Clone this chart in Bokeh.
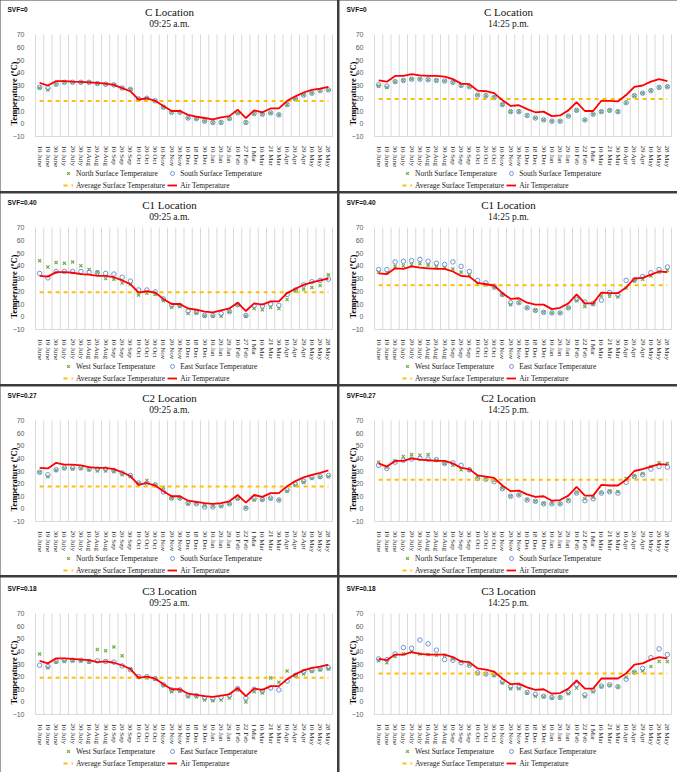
import math

from bokeh.plotting import figure
from bokeh.layouts import gridplot
from bokeh.models import Range1d, FixedTicker, Label, Legend, LegendItem
from bokeh.embed import file_html
from bokeh.resources import INLINE

# ---- category labels (survey dates) ----
DATES_27FEB = ["10 June", "19 June", "30 June", "10 July", "20 July", "30 July",
               "10 Aug", "20 Aug", "30 Aug", "10 Sep", "20 Sep", "30 Sep",
               "10 Oct", "20 Oct", "30 Oct", "10 Nov", "20 Nov", "30 Nov",
               "10 Dec", "18 Dec", "30 Dec", "10 Jan", "20 Jan", "29 Jan",
               "10 Feb", "27 Feb", "1 Mar", "10 Mar", "21 Mar", "30 Mar",
               "10 Apr", "20 Apr", "29 Apr", "10 May", "20 May", "28 May"]
DATES_22FEB = [d if d != "27 Feb" else "22 Feb" for d in DATES_27FEB]

# ---- C location (SVF=0) ----
c_am_north = [28, 26.5, 31, 32.5, 32.5, 32.5, 32.5, 31.5, 31, 30.5, 28, 27,
              19.5, 20, 18, 13, 9, 9, 4.5, 4, 2, 1, 1, 4,
              8.5, 1, 8, 7.5, 8.5, 7, 15, 19.5, 22.5, 24, 26, 26.5]
c_am_south = [28.5, 28, 31, 32.5, 32.5, 32.5, 32.5, 31.5, 31, 30.5, 28, 27,
              19.5, 20, 18, 13, 9, 9, 4.5, 4, 2, 1, 1, 4,
              8.5, 1, 8, 7.5, 8.5, 7, 15, 19.5, 22.5, 24, 26, 26.5]
c_am_air = [32, 30, 33.5, 33.5, 33, 32.8, 32.5, 32, 31.5, 30.5, 28, 25.5,
            19, 20, 18, 14, 10, 10, 7, 5.5, 4.5, 3.5, 5, 6,
            11, 4.5, 10.5, 9, 12, 12, 18, 21.5, 24.5, 26.5, 27.5, 29]
c_am_avg = 17.9

c_pm_north = [29.5, 28.5, 33, 34, 35, 35, 34.5, 34, 33.5, 32.5, 30, 29,
              22.5, 22, 20.5, 15, 9.5, 9.5, 6.5, 4.5, 3, 2, 2, 6,
              10.5, 3, 7.5, 9.5, 10.5, 9.5, 16.5, 22, 24, 26, 28.5, 29]
c_pm_south = [30.5, 29.5, 33, 34, 35, 35, 34.5, 34, 33.5, 32.5, 30, 29,
              22.5, 22, 20.5, 15, 9.5, 9.5, 6.5, 4.5, 3, 2, 2, 6,
              10.5, 3, 7.5, 9.5, 10.5, 9.5, 16.5, 22, 24, 26, 28.5, 29]
c_pm_air = [34, 33, 37.5, 37.5, 39, 38, 37.5, 37.5, 37, 35, 31.5, 31,
            26, 25.5, 24, 18.5, 14, 14.5, 11.5, 9, 9.5, 6, 6.5, 10.5,
            17, 10, 10, 18, 18, 17.5, 22.5, 29, 30, 33, 35, 33.5]
c_pm_avg = 19.5

# ---- C1 location (SVF=0.40) ----
c1_am_west = [44, 39, 42.5, 42, 43, 40, 37, 35, 30, 29.5, 26.5, 25.5,
              17, 18.5, 17.5, 12.5, 7.5, 8, 2.5, 3, 0.5, 0.5, 0.5, 4,
              9, 0.5, 6.5, 5.5, 7.5, 6.5, 13.5, 20.5, 21.5, 23, 24.5, 33]
c1_am_east = [34, 30.5, 35.5, 35.5, 35.5, 35.5, 35, 34.5, 34, 33.5, 31, 28,
              21, 21, 19.5, 14, 9, 9, 4.5, 3.5, 1, 1, 2.5, 4,
              9.5, 1, 8.5, 8.5, 10, 9, 17.5, 21, 25, 27.5, 28.5, 29.5]
c1_am_air = [32, 31.5, 35, 35, 34.5, 33.5, 33, 32, 32, 31, 28.5, 25.5,
             19, 20, 19, 14, 10, 10, 6.5, 5.5, 4, 3.5, 5, 6.5,
             11, 4.5, 10.5, 9.5, 12, 12, 18.5, 22, 25, 27, 28.5, 30]
c1_am_avg = 19.3

c1_pm_west = [35, 34.5, 39.5, 40, 41, 41.5, 40.5, 39.5, 38.5, 37.5, 35, 33,
              25.5, 25, 22.5, 17, 9.5, 11, 7, 5, 3.5, 3, 3, 7,
              12.5, 8, 9.5, 16.5, 16, 15.5, 22.5, 28, 29.5, 32, 35, 36.5]
c1_pm_east = [37, 37, 43, 43.5, 44, 45, 43.5, 42, 41, 43, 39.5, 35.5,
              28.5, 26.5, 24, 17.5, 11, 11, 7, 5, 3.5, 3, 3, 7,
              13.5, 11.5, 10.5, 13, 19, 17, 28.5, 29, 31.5, 34.5, 37, 39]
c1_pm_air = [34, 33.5, 38, 37.5, 39.5, 38.5, 38, 37.5, 37.5, 35.5, 32, 31.5,
             26.5, 25.5, 24.5, 18.5, 14, 14.5, 11, 9.5, 9.5, 6, 7, 10.5,
             17.5, 10.5, 10.5, 19, 18.5, 18.5, 23, 30, 30.5, 33, 35.5, 35]
c1_pm_avg = 24.8

# ---- C2 location (SVF=0.27) ----
c2_am_north = [29, 25.5, 30.5, 32, 31.5, 32, 31, 30, 30, 29.5, 27, 25.5,
               20, 22.5, 19, 17, 8.5, 8.5, 4, 4.5, 2.5, 2, 2, 4,
               8, 1, 7, 7, 8, 7, 14, 18.5, 21, 24, 25, 25.5]
c2_am_south = [29, 27, 31, 32.5, 32.5, 32.5, 31.5, 31.5, 31.5, 30.5, 28.5, 26.5,
               20.5, 20.5, 19, 13.5, 8.5, 8.5, 4.5, 4, 1.5, 1.5, 2.5, 4,
               8.5, 0.5, 8, 7.5, 8.5, 7, 15, 19.5, 22, 25, 25.5, 26.5]
c2_am_air = [32.5, 32, 36.5, 35, 35, 34.5, 33, 32.5, 32.5, 31.5, 29, 26,
             19, 20.5, 18.5, 14, 10, 10, 6.5, 5.5, 4.5, 4, 4.5, 6,
             11, 5, 11, 9.5, 12.5, 12.5, 18, 22, 25, 27, 28.5, 30.5]
c2_am_avg = 17.7

c2_pm_north = [37, 33, 38, 41.5, 43, 42.5, 43, 38.5, 36, 34.5, 31, 30.5,
               25, 23.5, 22.5, 16.5, 10, 11, 7.5, 6, 4.5, 4.5, 4, 7,
               13, 8, 9, 13, 14, 13.5, 24, 26, 28, 33.5, 36.5, 36]
c2_pm_south = [34.5, 32, 37, 38.5, 39.5, 40, 39.5, 39, 36, 36.5, 34.5, 31,
               24, 23.5, 21.5, 16, 10, 11, 7, 6, 4, 4, 4, 6.5,
               12.5, 6.5, 8, 12.5, 13.5, 12.5, 21, 25.5, 27, 31.5, 33.5, 33]
c2_pm_air = [36, 33.5, 38, 38, 40, 39, 38.5, 38, 38, 36, 32.5, 31.5,
             26.5, 25.5, 24.5, 18.5, 14, 14.5, 11.5, 9.5, 10, 6.5, 7, 10.5,
             17.5, 10.5, 10.5, 19, 18.5, 18.5, 23, 30, 31.5, 33.5, 35.5, 35]
c2_pm_avg = 23.0

# ---- C3 location (SVF=0.18) ----
c3_am_west = [38, 27, 31.5, 32, 32.5, 32.5, 31.5, 41.5, 40.5, 43.5, 36.5, 26,
              19.5, 19, 18, 13, 8, 8.5, 4, 4, 1.5, 1, 1.5, 3,
              9.5, 0, 8, 7, 19, 15.5, 24.5, 21, 22, 24, 25.5, 26]
c3_am_east = [29, 28, 32, 33, 33, 33, 32, 32.5, 32, 31.5, 28.5, 25.5,
              20, 20, 18.5, 13.5, 9.5, 9.5, 5, 5, 3, 2.5, 3.5, 5,
              10.5, 3, 10, 8.5, 11, 9.5, 16.5, 21, 24, 25, 26, 27]
c3_am_air = [32.5, 30.5, 34.5, 34.5, 34, 33.5, 33, 31.5, 32, 31, 29, 26,
             19, 20, 18.5, 14, 10, 10, 6.5, 5.5, 4.5, 4, 5, 6,
             11, 4.5, 10.5, 9.5, 12.5, 12.5, 18, 22, 25, 27, 28, 29.5]
c3_am_avg = 19.2

c3_pm_west = [32.5, 31, 36, 38, 39.5, 38, 37.5, 37, 37, 34, 32, 29.5,
              22.5, 22, 21, 15, 10.5, 10.5, 7, 4.5, 4, 3, 3.5, 6.5,
              11, 4, 8, 12, 13, 12, 19.5, 23.5, 24.5, 28, 32, 32]
c3_pm_east = [34, 33.5, 38, 43, 42.5, 49, 46, 41, 33.5, 33, 31, 29,
              23, 22, 21.5, 16, 12, 11.5, 7.5, 6, 4.5, 3.5, 3.5, 7.5,
              13.5, 5.5, 9, 12.5, 13.5, 12, 18, 23.5, 26.5, 35, 42, 37.5]
c3_pm_air = [34, 33, 37.5, 37.5, 39.5, 38, 37.5, 37.5, 37.5, 35.5, 32, 31.5,
             26.5, 25.5, 24, 18.5, 14, 14.5, 11.5, 9.5, 10, 6.5, 7, 10.5,
             17, 10.5, 10.5, 18.5, 18.5, 18.5, 22.5, 29.5, 30.5, 33.5, 35.5, 34.5]
c3_pm_avg = 22.4

Y_TICKS = [-10, 0, 10, 20, 30, 40, 50, 60, 70]
Y_MIN, Y_MAX = Y_TICKS[0], Y_TICKS[-1]
Y_TITLE = "Temperature  (ºC)"

GREEN = "#70AD47"
BLUE = "#6F95D6"
GOLD = "#FFC000"
RED = "#FF0000"
GRID = "#D9D9D9"
SERIF = "Liberation Serif"
SANS = "Liberation Sans"

# plot area inside each panel (pixels from the panel's left edge)
AREA_LEFT, AREA_RIGHT = 35, 332


def make_panel(svf, location, clock, dates, name1, s1, name2, s2, air, avg,
               width, height, area_top, area_bottom):
    n = len(dates)
    xs = [i + 0.5 for i in range(n)]

    # the frame fills the whole panel; ranges are chosen so that the
    # temperature area sits at [AREA_LEFT, AREA_RIGHT] x [area_top, area_bottom]
    xscale = (AREA_RIGHT - AREA_LEFT) / n
    yscale = (area_bottom - area_top) / (Y_MAX - Y_MIN)
    x_range = Range1d(-AREA_LEFT / xscale, n + (width - AREA_RIGHT) / xscale)
    y_range = Range1d(Y_MIN - (height - area_bottom) / yscale, Y_MAX + area_top / yscale)

    p = figure(width=width, height=height, output_backend="svg",
               toolbar_location=None, x_range=x_range, y_range=y_range,
               min_border=0)
    p.outline_line_color = None
    p.background_fill_color = "white"
    p.border_fill_color = "white"
    p.grid.visible = False

    # vertical separators between survey dates
    bounds = list(range(n + 1))
    p.segment(x0=bounds, y0=[Y_MIN] * len(bounds), x1=bounds, y1=[Y_MAX] * len(bounds),
              line_color=GRID, line_width=1)

    # x axis: one rotated label per survey date
    xa = p.xaxis[0]
    xa.fixed_location = Y_MIN
    xa.bounds = (0, n)
    xa.ticker = FixedTicker(ticks=xs)
    xa.major_label_overrides = {x: d for x, d in zip(xs, dates)}
    xa.major_label_orientation = "vertical"
    xa.major_label_text_font = SERIF
    xa.major_label_text_font_size = "7px"
    xa.major_label_text_color = "#222222"
    xa.major_label_standoff = 3
    xa.axis_line_color = GRID
    xa.major_tick_line_color = None
    xa.minor_tick_line_color = None

    # y axis
    ya = p.yaxis[0]
    ya.fixed_location = 0
    ya.bounds = (Y_MIN, Y_MAX)
    ya.ticker = FixedTicker(ticks=Y_TICKS)
    ya.axis_line_color = None
    ya.major_tick_line_color = None
    ya.minor_tick_line_color = None
    ya.major_label_text_font = SANS
    ya.major_label_text_font_size = "7px"
    ya.major_label_text_color = "#595959"
    ya.major_label_standoff = 5

    r1 = p.scatter(xs, s1, marker="x", size=4.5, line_color=GREEN, line_width=1.2)
    r2 = p.scatter(xs, s2, marker="circle", size=4.5, fill_color=None,
                   line_color=BLUE, line_width=1)
    r3 = p.line(xs, [avg] * n, line_color=GOLD, line_width=2, line_dash="4 4")
    r4 = p.line(xs, air, line_color=RED, line_width=1.8)

    legend_bottom = area_bottom + 54
    legend = Legend(items=[LegendItem(label=name1, renderers=[r1]),
                           LegendItem(label=name2, renderers=[r2]),
                           LegendItem(label="Average Surface Temperature", renderers=[r3]),
                           LegendItem(label="Air Temperature", renderers=[r4])],
                    location=(63, height - legend_bottom), orientation="horizontal", ncols=2,
                    label_text_font=SERIF, label_text_font_size="7.5px",
                    label_text_color="#222222", glyph_width=10, glyph_height=10,
                    label_height=10, label_standoff=3, spacing=2, padding=2,
                    margin=0, border_line_color=None, background_fill_alpha=0)
    p.add_layout(legend, "center")

    # captions (screen units measured up from the panel's bottom edge)
    p.add_layout(Label(x=13, y=height - (area_top + 58), x_units="screen", y_units="screen",
                       text=Y_TITLE, angle=math.pi / 2, text_font=SERIF,
                       text_font_style="bold", text_font_size="8.5px",
                       text_align="center", text_baseline="middle", text_color="#000000"))
    p.add_layout(Label(x=7, y=height - (area_top - 25), x_units="screen", y_units="screen",
                       text=svf, text_font=SANS, text_font_style="bold",
                       text_font_size="6.5px", text_baseline="middle", text_color="#111111"))
    p.add_layout(Label(x=169, y=height - (area_top - 23), x_units="screen", y_units="screen",
                       text=location, text_font=SERIF, text_font_size="11px",
                       text_align="center", text_baseline="middle", text_color="#111111"))
    p.add_layout(Label(x=169, y=height - (area_top - 11), x_units="screen", y_units="screen",
                       text=clock, text_font=SERIF, text_font_size="9.5px",
                       text_align="center", text_baseline="middle", text_color="#111111"))
    return p


NS = ("North Surface Temperature", "South Surface Temperature")
WE = ("West Surface Temperature", "East Surface Temperature")
rows = [
    (191, 34, 136, [("SVF=0", "C Location", DATES_27FEB, NS, c_am_north, c_am_south, c_am_air, c_am_avg),
                    ("SVF=0", "C Location", DATES_22FEB, NS, c_pm_north, c_pm_south, c_pm_air, c_pm_avg)]),
    (191, 34, 136, [("SVF=0.40", "C1 Location", DATES_27FEB, WE, c1_am_west, c1_am_east, c1_am_air, c1_am_avg),
                    ("SVF=0.40", "C1 Location", DATES_22FEB, WE, c1_pm_west, c1_pm_east, c1_pm_air, c1_pm_avg)]),
    (189, 34, 135, [("SVF=0.27", "C2 Location", DATES_22FEB, NS, c2_am_north, c2_am_south, c2_am_air, c2_am_avg),
                    ("SVF=0.27", "C2 Location", DATES_22FEB, NS, c2_pm_north, c2_pm_south, c2_pm_air, c2_pm_avg)]),
    (195, 36, 137, [("SVF=0.18", "C3 Location", DATES_22FEB, WE, c3_am_west, c3_am_east, c3_am_air, c3_am_avg),
                    ("SVF=0.18", "C3 Location", DATES_22FEB, WE, c3_pm_west, c3_pm_east, c3_pm_air, c3_pm_avg)]),
]
clocks = ["09:25 a.m.", "14:25 p.m."]
widths = [337, 338]

grid_children = []
for h, top, bottom, panels in rows:
    row = []
    for j, (svf, loc, dates, names, s1, s2, air, avg) in enumerate(panels):
        row.append(make_panel(svf, loc, clocks[j], dates, names[0], s1, names[1], s2,
                              air, avg, widths[j], h, top, bottom))
    grid_children.append(row)

grid = gridplot(grid_children, toolbar_location=None)
grid.spacing = 2
grid.styles = {"background-color": "#3C3C3C"}

open("out.html", "w").write(file_html(grid, INLINE))
